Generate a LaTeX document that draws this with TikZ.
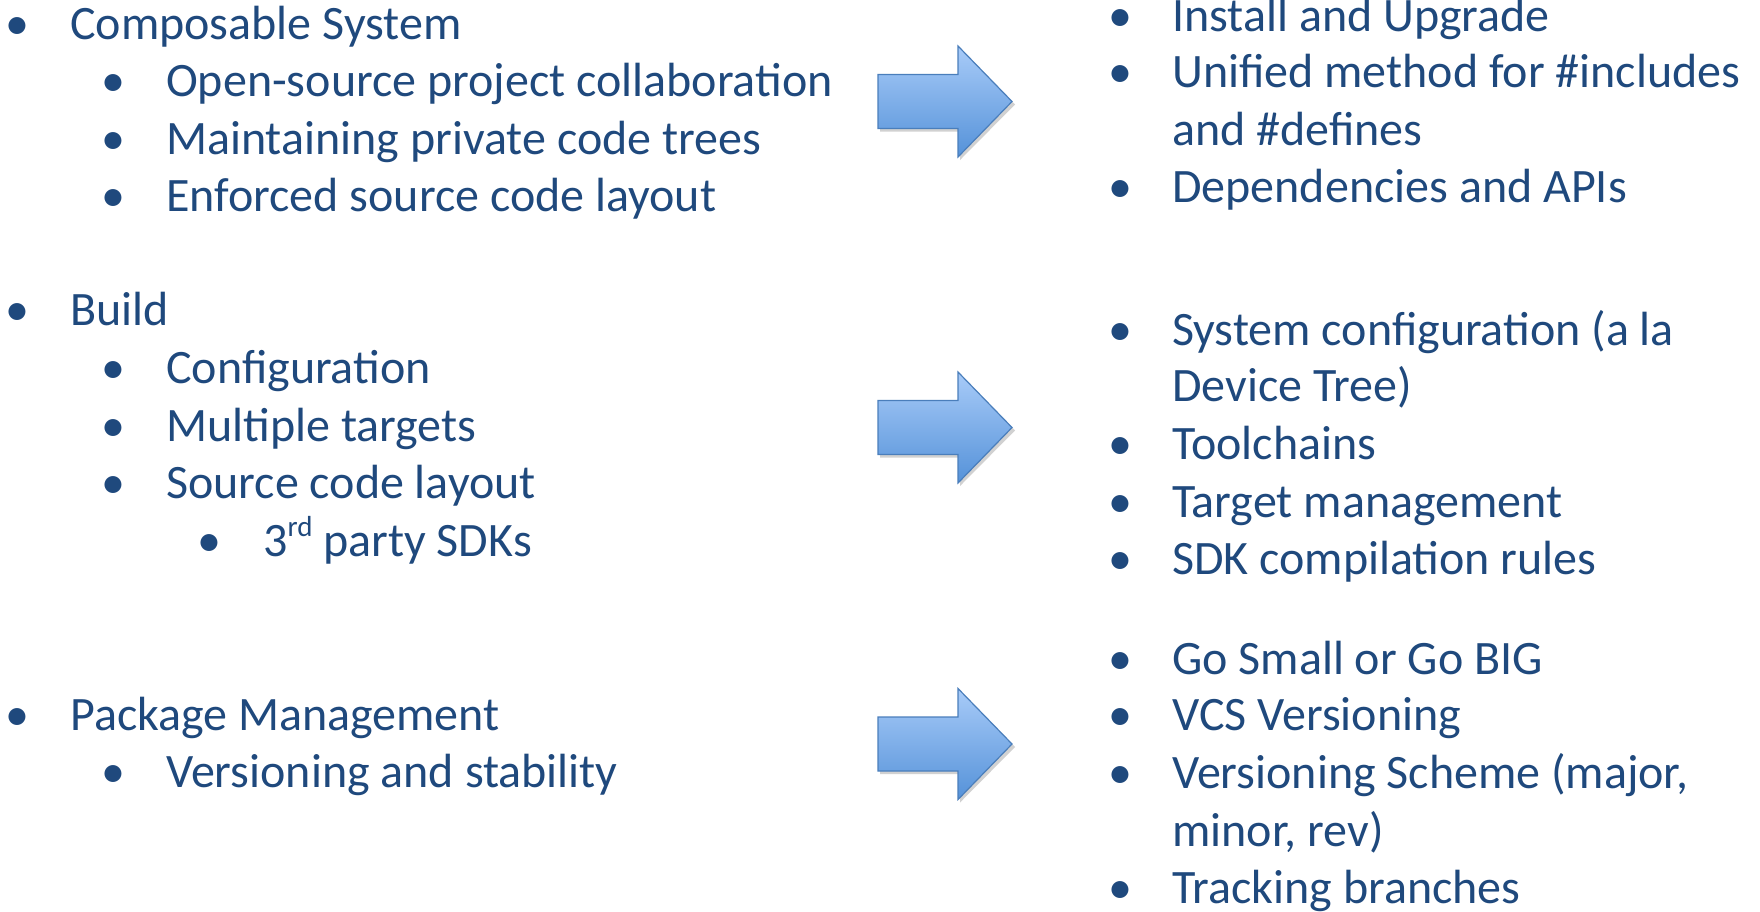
\documentclass[tikz,border=0pt]{standalone}
\usepackage{fontspec}
\setmainfont{Carlito}
\usetikzlibrary{positioning}

\definecolor{slideblue}{HTML}{1F497D}
\definecolor{arrowline}{HTML}{4A7EBB}
\definecolor{arrowtop}{HTML}{A8CBF8}
\definecolor{arrowbot}{HTML}{5592D9}

\begin{document}
\begin{tikzpicture}[
            x = 1pt, y = -1pt, % pixel grid, y going down
            item/.style = {anchor = base west, inner sep = 0pt, text = slideblue,
                           font = \fontsize{48}{57}\selectfont},
            dot/.style = {item, anchor = base},
            bigarrow/.style = {draw = arrowline, line width = 1.2pt,
                               top color = arrowtop, bottom color = arrowbot},
        ]
\useasboundingbox (0,0) rectangle (1760,911);

% left column
\node[item] (comp) at (70,39) {Composable System};
\node[item] (opensrc) at (166,96) {Open-source project collaboration};
\node[item] (private) at (166,154) {Maintaining private code trees};
\node[item] (enforced) at (166,211) {Enforced source code layout};
\node[item] (build) at (70,325) {Build};
\node[item] (config) at (166,383) {Configuration};
\node[item] (targets) at (166,441) {Multiple targets};
\node[item] (layout) at (166,498) {Source code layout};
\node[item] (sdks) at (263,556) {3\raisebox{20pt}{\fontsize{29}{29}\selectfont rd} party SDKs};
\node[item] (pkg) at (70,730) {Package Management};
\node[item] (stab) at (166,787) {Versioning and stability};

% right column
\node[item] (install) at (1172,31) {Install and Upgrade};
\node[item] (unified) at (1172,87) {Unified method for \#includes};
\node[item] (defines) at (1172,145) {and \#defines};
\node[item] (deps) at (1172,202) {Dependencies and APIs};
\node[item] (sysconf) at (1172,345) {System configuration (a la};
\node[item] (devtree) at (1172,401) {Device Tree)};
\node[item] (tools) at (1172,459) {Toolchains};
\node[item] (tmgmt) at (1172,517) {Target management};
\node[item] (rules) at (1172,574) {SDK compilation rules};
\node[item] (gosmall) at (1172,674) {Go Small or Go BIG};
\node[item] (vcs) at (1172,730) {VCS Versioning};
\node[item] (scheme) at (1172,788) {Versioning Scheme (major,};
\node[item] (minor) at (1172,846) {minor, rev)};
\node[item] (track) at (1172,903) {Tracking branches};

% bullets
\foreach \x/\y/\n in {17/39/b1, 113/96/b2, 113/154/b3, 113/211/b4,
                      17/325/b5, 113/383/b6, 113/441/b7, 113/498/b8, 209/556/b9,
                      17/730/b10, 113/787/b11,
                      1120/31/r1, 1120/87/r2, 1120/202/r3, 1120/345/r4, 1120/459/r5,
                      1120/517/r6, 1120/574/r7, 1120/674/r8, 1120/730/r9,
                      1120/788/r10, 1120/903/r11}
    \node[dot] (\n) at (\x,\y) {•};

% block arrows
\foreach \c/\n in {101.5/arrA, 427.5/arrB, 744/arrC} {
    \fill[black, opacity = 0.18] (880,\c-24) -- (960,\c-24) -- (960,\c-52.5)
        -- (1015,\c+3) -- (960,\c+58.5) -- (960,\c+30) -- (880,\c+30) -- cycle;
    \draw[bigarrow] (878,\c-27) -- (958,\c-27) -- (958,\c-55.5) -- (1012,\c)
        -- (958,\c+55.5) -- (958,\c+27) -- (878,\c+27) -- cycle;
    \coordinate (\n) at (1012,\c);
}
\end{tikzpicture}
\end{document}
